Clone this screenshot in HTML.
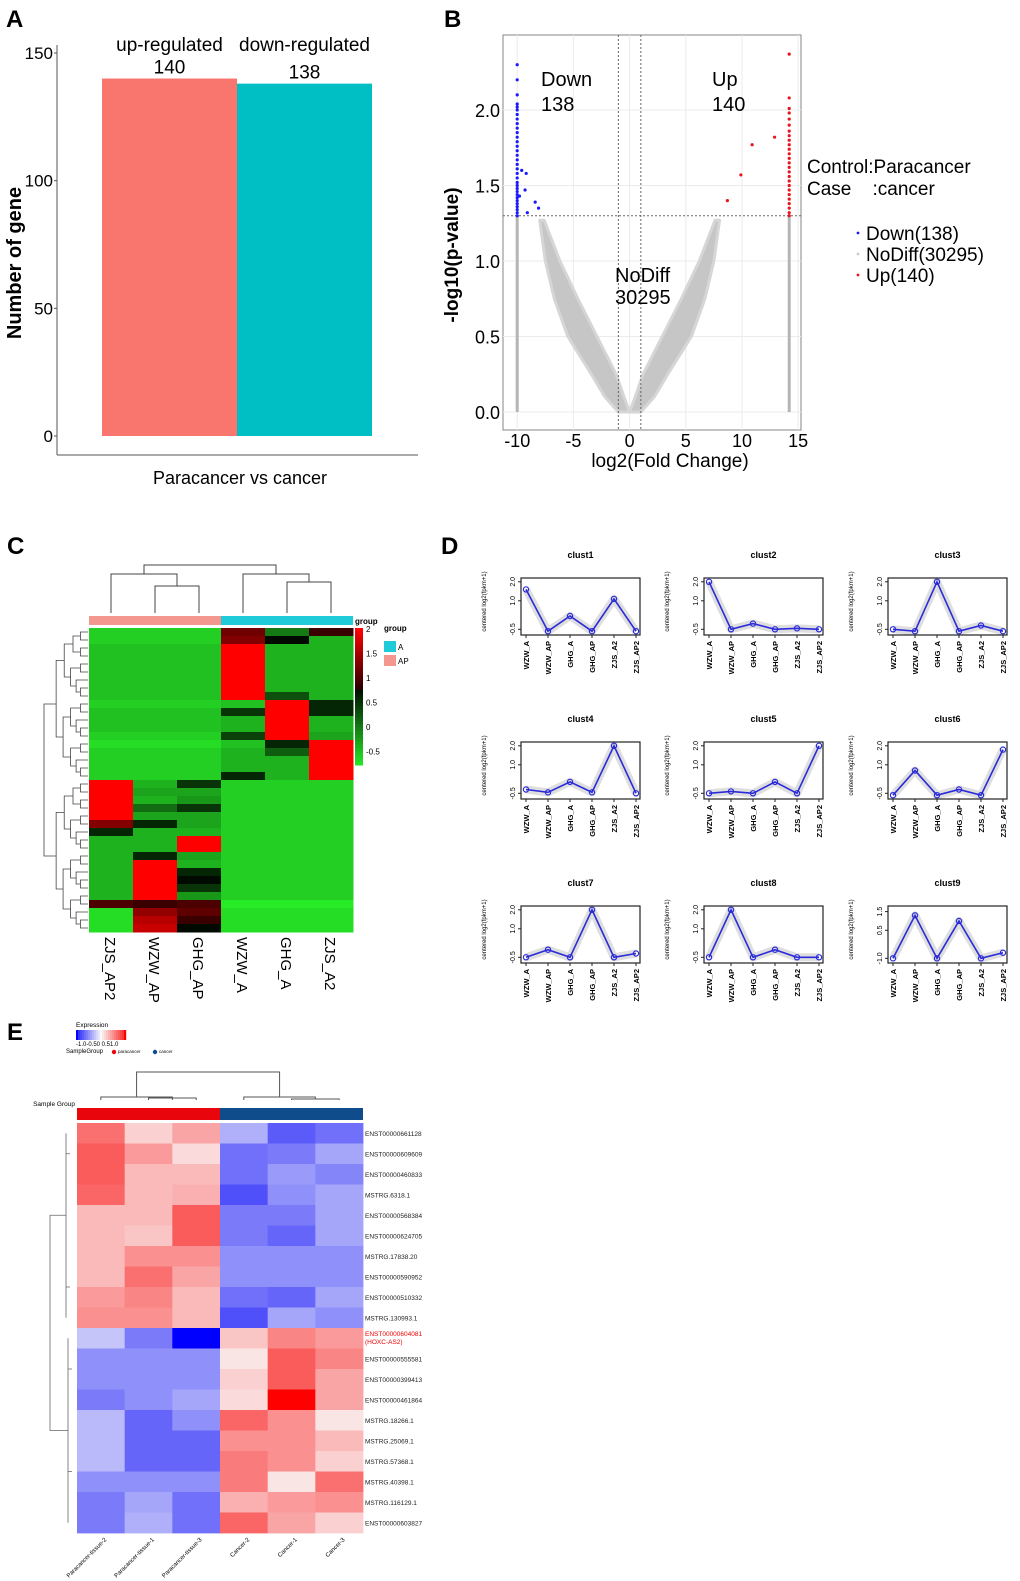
<!DOCTYPE html>
<html><head><meta charset="utf-8"><style>
html,body{margin:0;padding:0;background:#fff;}
svg{display:block;font-family:"Liberation Sans",sans-serif;}
.n{font-family:"Liberation Sans Narrow","Liberation Sans",sans-serif;}
</style></head><body>
<svg id="fig" width="1020" height="1581" viewBox="0 0 1020 1581" xmlns="http://www.w3.org/2000/svg">
<g id="pA"></g>
<g id="pB"></g>
<g id="pC"></g>
<g id="pD"></g>
<g id="pE"></g>
</svg>
<script>
// ---------- Panel A data ----------
const aCategories = ["up-regulated","down-regulated"];
const aValues = [140,138];
const aTicks = [0,50,100,150];
// ---------- Panel B data ----------
const bXTicks = [-10,-5,0,5,10,15];
const bYTicks = [0.0,0.5,1.0,1.5,2.0];
const bDownY = [2.3,2.2,2.1,2.04,2.02,2.0,1.97,1.94,1.91,1.88,1.85,1.82,1.79,1.76,1.73,1.7,1.67,1.64,1.61,1.58,1.55,1.52,1.5,1.48,1.46,1.44,1.42,1.4,1.38,1.36,1.34,1.32,1.3];
const bDownOffX = [-9.6,-9.2,-9.3,-9.8,-8.4,-8.1,-9.1];
const bDownOffY = [1.6,1.58,1.47,1.43,1.39,1.35,1.32];
const bUpY = [2.37,2.08,2.01,1.98,1.94,1.9,1.86,1.83,1.8,1.77,1.74,1.71,1.68,1.65,1.62,1.59,1.56,1.53,1.5,1.47,1.44,1.41,1.38,1.35,1.32,1.3];
const bUpOffX = [8.7,9.9,10.9,12.9];
const bUpOffY = [1.4,1.57,1.77,1.82];
const bBandY = [0,0.1,0.25,0.5,0.75,1.0,1.27];
const bLeftOuterX = [-1.0,-2.2,-3.4,-5.5,-6.7,-7.5,-8.0];
const bLeftInnerX = [0.0,-0.5,-1.2,-2.9,-4.6,-6.2,-7.6];
const bRightOuterX = [1.0,2.2,3.4,5.5,6.7,7.5,8.0];
const bRightInnerX = [0.0,0.5,1.2,2.9,4.6,6.2,7.6];
// ---------- Panel C data ----------
const cCols = ["ZJS_AP2","WZW_AP","GHG_AP","WZW_A","GHG_A","ZJS_A2"];
const cLegendTicks = [2,1.5,1,0.5,0,-0.5];
const cMatrix = [
[-0.6,-0.6,-0.6,1.2,0.0,0.9],
[-0.6,-0.6,-0.6,1.3,0.8,-0.4],
[-0.5,-0.5,-0.5,2,-0.4,-0.4],
[-0.5,-0.5,-0.5,2,-0.4,-0.4],
[-0.5,-0.5,-0.5,2,-0.4,-0.4],
[-0.5,-0.5,-0.5,2,-0.4,-0.4],
[-0.5,-0.5,-0.5,2,-0.4,-0.4],
[-0.5,-0.5,-0.5,2,-0.4,-0.4],
[-0.5,-0.5,-0.5,2,0.3,-0.4],
[-0.6,-0.6,-0.6,-0.5,2,0.6],
[-0.5,-0.5,-0.5,0.5,2,0.6],
[-0.5,-0.5,-0.5,-0.4,2,-0.4],
[-0.5,-0.5,-0.5,-0.4,2,-0.4],
[-0.6,-0.6,-0.6,0.4,2,-0.3],
[-0.7,-0.7,-0.7,-0.5,0.6,2],
[-0.6,-0.6,-0.6,-0.4,0.2,2],
[-0.6,-0.6,-0.6,-0.4,-0.4,2],
[-0.6,-0.6,-0.6,-0.4,-0.4,2],
[-0.6,-0.6,-0.6,0.6,-0.4,2],
[2,-0.4,0.5,-0.6,-0.6,-0.6],
[2,-0.3,-0.3,-0.6,-0.6,-0.6],
[2,-0.4,-0.2,-0.6,-0.6,-0.6],
[2,0.1,0.5,-0.6,-0.6,-0.6],
[2,-0.3,-0.3,-0.6,-0.6,-0.6],
[1.3,0.6,-0.3,-0.6,-0.6,-0.6],
[0.6,-0.4,-0.4,-0.6,-0.6,-0.6],
[-0.4,-0.4,2,-0.6,-0.6,-0.6],
[-0.4,-0.4,2,-0.6,-0.6,-0.6],
[-0.4,0.6,-0.3,-0.6,-0.6,-0.6],
[-0.4,2,-0.4,-0.6,-0.6,-0.6],
[-0.4,2,0.6,-0.6,-0.6,-0.6],
[-0.4,2,0.8,-0.6,-0.6,-0.6],
[-0.4,2,0.5,-0.6,-0.6,-0.6],
[-0.4,2,-0.2,-0.6,-0.6,-0.6],
[1.0,0.9,1.0,-0.8,-0.8,-0.8],
[-0.7,1.4,1.1,-0.7,-0.7,-0.7],
[-0.7,1.6,0.9,-0.7,-0.7,-0.7],
[-0.7,1.7,0.8,-0.7,-0.7,-0.7]];
// ---------- Panel D data ----------
const dSamples = ["WZW_A","WZW_AP","GHG_A","GHG_AP","ZJS_A2","ZJS_AP2"];
const dTitles = ["clust1","clust2","clust3","clust4","clust5","clust6","clust7","clust8","clust9"];
const dClust1 = [1.6,-0.6,0.2,-0.6,1.1,-0.6];
const dClust2 = [2.0,-0.5,-0.2,-0.5,-0.45,-0.5];
const dClust3 = [-0.5,-0.6,2.0,-0.6,-0.3,-0.6];
const dClust4 = [-0.3,-0.45,0.1,-0.45,2.0,-0.5];
const dClust5 = [-0.5,-0.4,-0.5,0.1,-0.5,2.0];
const dClust6 = [-0.6,0.7,-0.6,-0.3,-0.6,1.8];
const dClust7 = [-0.5,-0.1,-0.5,2.0,-0.5,-0.3];
const dClust8 = [-0.5,2.0,-0.5,-0.1,-0.5,-0.5];
const dClust9 = [-1.0,1.3,-1.0,1.0,-1.0,-0.7];
const dTickLabels = ["-0.5","1.0","2.0"];
const dTickLabels9 = ["-1.0","0.5","1.5"];
// ---------- Panel E data ----------
const eCols = ["Paracancer-tissue-2","Paracancer-tissue-1","Paracancer-tissue-3","Cancer-2","Cancer-1","Cancer-3"];
const eRows = ["ENST00000661128","ENST00000609609","ENST00000460833","MSTRG.6318.1","ENST00000568384","ENST00000624705","MSTRG.17838.20","ENST00000590952","ENST00000510332","MSTRG.130993.1","ENST00000604081","ENST00000555581","ENST00000399413","ENST00000461864","MSTRG.18266.1","MSTRG.25069.1","MSTRG.57368.1","MSTRG.40398.1","MSTRG.116129.1","ENST00000603827"];
const eMatrix = [
[0.65,0.2,0.4,-0.35,-0.75,-0.65],
[0.75,0.45,0.15,-0.65,-0.6,-0.4],
[0.75,0.3,0.3,-0.65,-0.45,-0.55],
[0.7,0.3,0.35,-0.8,-0.5,-0.4],
[0.3,0.3,0.75,-0.6,-0.6,-0.4],
[0.3,0.25,0.75,-0.6,-0.7,-0.4],
[0.3,0.5,0.5,-0.5,-0.5,-0.5],
[0.3,0.65,0.4,-0.5,-0.5,-0.5],
[0.45,0.55,0.3,-0.65,-0.7,-0.4],
[0.5,0.5,0.3,-0.8,-0.4,-0.5],
[-0.25,-0.6,-1.0,0.25,0.55,0.45],
[-0.5,-0.5,-0.5,0.1,0.75,0.55],
[-0.5,-0.5,-0.5,0.2,0.75,0.4],
[-0.6,-0.5,-0.4,0.15,1.0,0.4],
[-0.3,-0.7,-0.5,0.7,0.5,0.1],
[-0.3,-0.7,-0.7,0.5,0.5,0.3],
[-0.3,-0.7,-0.7,0.6,0.5,0.2],
[-0.5,-0.5,-0.5,0.6,0.1,0.65],
[-0.6,-0.4,-0.65,0.35,0.45,0.5],
[-0.6,-0.35,-0.65,0.7,0.4,0.2]];

const NS="http://www.w3.org/2000/svg";
function mk(parent,tag,attrs,text){const e=document.createElementNS(NS,tag);for(const k in attrs)e.setAttribute(k,attrs[k]);if(text!==undefined)e.textContent=text;parent.appendChild(e);return e;}
const svg=document.getElementById('fig');
function label(txt,x,y,name){const t=mk(svg,'text',{x:x,y:y,'font-size':24,'font-weight':'bold'},txt);}
label('A',6,27,'panel-label-a');label('B',444,27,'panel-label-b');label('C',7,554,'panel-label-c');label('D',441,554,'panel-label-d');label('E',7,1040,'panel-label-e');

// ===== Panel A =====
(function(){
const g=document.getElementById('pA');
const y0=436,ppu=(436-53)/150;
const ya=v=>y0-v*ppu;
const xs=[102,237],w=135;
const cols=['#f8766d','#00bfc4'];
const ax=mk(g,'line',{x1:57,y1:45,x2:57,y2:455,stroke:'#555','stroke-width':1});

const xl=mk(g,'line',{x1:57,y1:455,x2:418,y2:455,stroke:'#555','stroke-width':1});

aTicks.forEach(t=>{
 const tk=mk(g,'line',{x1:54,y1:ya(t),x2:57,y2:ya(t),stroke:'#555'});
 
 const tl=mk(g,'text',{x:53,y:ya(t)+6,'font-size':17,'text-anchor':'end',class:'n'},String(t));
 
});
aValues.forEach((v,i)=>{
 const r=mk(g,'rect',{x:xs[i],y:ya(v),width:w,height:y0-ya(v),fill:cols[i]});
 
 const c=xs[i]+w/2;
 const t1=mk(g,'text',{x:c,y:51,'font-size':19,'text-anchor':'middle',class:'n'},aCategories[i]);
 
 const t2=mk(g,'text',{x:c,y:ya(v)-5,'font-size':19,'text-anchor':'middle',class:'n'},String(v));
 
});
const xt=mk(g,'text',{x:240,y:484,'font-size':18,'text-anchor':'middle',class:'n'},'Paracancer vs cancer');

const yt=mk(g,'text',{x:0,y:0,'font-size':20,'text-anchor':'middle','font-weight':'bold',transform:'translate(21,263) rotate(-90)',class:'n'},'Number of gene');

})();

// ===== Panel B =====
(function(){
const g=document.getElementById('pB');
const x0=629.6,xp=(798-517)/25,y0=412,yp=(412-110)/2;
const xa=v=>x0+v*xp, ya=v=>y0-v*yp;
const L=503,R=801,T=35,B=430;
const fr=mk(g,'rect',{x:L,y:T,width:R-L,height:B-T,fill:'#fff',stroke:'#999','stroke-width':1.2});

bXTicks.forEach(t=>{
 const gl=mk(g,'line',{x1:xa(t),y1:T,x2:xa(t),y2:B,stroke:'#ebebeb'});
 
 const tl=mk(g,'text',{x:xa(t),y:447,'font-size':18,'text-anchor':'middle',class:'n'},String(t));
 
});
bYTicks.forEach(t=>{
 const gl=mk(g,'line',{x1:L,y1:ya(t),x2:R,y2:ya(t),stroke:'#ebebeb'});
 
 const tl=mk(g,'text',{x:500,y:ya(t)+7,'font-size':18,'text-anchor':'end',class:'n'},t.toFixed(1));
 
});
function band(outer,inner,name){
 let pts=[];outer.forEach((x,i)=>pts.push(xa(x)+','+ya(bBandY[i])));
 for(let i=inner.length-1;i>=0;i--)pts.push(xa(inner[i])+','+ya(bBandY[i]));
 const p=mk(g,'polygon',{points:pts.join(' '),fill:'#c6c6c6',stroke:'#d6d6d6','stroke-width':3,'stroke-linejoin':'round'});
 
}
band(bLeftOuterX,bLeftInnerX,'nodiff-cloud-left');band(bRightOuterX,bRightInnerX,'nodiff-cloud-right');
[-10,14.2].forEach(x=>{const l=mk(g,'line',{x1:xa(x),y1:ya(0),x2:xa(x),y2:ya(1.3),stroke:'#b5b5b5','stroke-width':3});
 });
[-1,1].forEach(x=>{const l=mk(g,'line',{x1:xa(x),y1:T,x2:xa(x),y2:B,stroke:'#666','stroke-dasharray':'2,2'});
 });
const th=mk(g,'line',{x1:L,y1:ya(1.3),x2:R,y2:ya(1.3),stroke:'#666','stroke-dasharray':'2,2'});

function dot(x,y,c,name){const d=mk(g,'circle',{cx:xa(x),cy:ya(y),r:1.6,fill:c});}
bDownY.forEach(y=>dot(-10,y,'#1a1aff','down-point'));
bDownOffX.forEach((x,i)=>dot(x,bDownOffY[i],'#1a1aff','down-point'));
bUpY.forEach(y=>dot(14.2,y,'#e8141e','up-point'));
bUpOffX.forEach((x,i)=>dot(x,bUpOffY[i],'#e8141e','up-point'));
const txt=[['Down',541,86],['138',541,111],['Up',712,86],['140',712,111],['NoDiff',615,282],['30295',615,304]];
txt.forEach(a=>{const t=mk(g,'text',{x:a[1],y:a[2],'font-size':20,class:'n'},a[0]);});
const c1=mk(g,'text',{x:807,y:173,'font-size':19,class:'n'},'Control:Paracancer');
const c2=mk(g,'text',{x:807,y:195,'font-size':19,class:'n',style:'white-space:pre'},'Case    :cancer');
[['Down(138)','#1a1aff',240],['NoDiff(30295)','#cccccc',261],['Up(140)','#e8141e',282]].forEach(a=>{
 const d=mk(g,'circle',{cx:858,cy:a[2]-7,r:1.4,fill:a[1]});
 const t=mk(g,'text',{x:866,y:a[2],'font-size':19,class:'n'},a[0]);
});
const xt=mk(g,'text',{x:670,y:467,'font-size':19,'text-anchor':'middle',class:'n'},'log2(Fold Change)');
const yt=mk(g,'text',{x:0,y:0,'font-size':19,'font-weight':'bold','text-anchor':'middle',transform:'translate(458,255) rotate(-90)',class:'n'},'-log10(p-value)');
})();

// ===== Panel C =====
function rg(v){v=Math.max(-0.8,Math.min(2,v));
 if(v<=0.8){const t=(v+0.8)/1.6;return 'rgb('+Math.round(40*(1-t))+','+Math.round(235*(1-t)+10*t)+','+Math.round(40*(1-t))+')';}
 const t=(v-0.8)/1.2;return 'rgb('+Math.round(40+215*t)+',0,0)';}
(function(){
const g=document.getElementById('pC');
const L=89,T=628,cw=44,rh=304/cMatrix.length;
cMatrix.forEach((row,i)=>row.forEach((v,j)=>{
 const r=mk(g,'rect',{x:L+j*cw,y:T+i*rh,width:cw+0.5,height:rh+0.5,fill:rg(v)});
 
}));
const cx=j=>L+j*cw+cw/2;
const b1=mk(g,'rect',{x:L,y:616,width:3*cw,height:9,fill:'#f4978e'});
const b2=mk(g,'rect',{x:L+3*cw,y:616,width:3*cw,height:9,fill:'#1fcbd8'});
const den=`M${cx(1)},613V586H${cx(2)}V613 M${cx(0)},613V574H${(cx(1)+cx(2))/2}V586 M${cx(4)},613V582H${cx(5)}V613 M${cx(3)},613V574H${(cx(4)+cx(5))/2}V582 M${(cx(0)+(cx(1)+cx(2))/2)/2},574V565H${(cx(3)+(cx(4)+cx(5))/2)/2}V574`;
const d=mk(g,'path',{d:den,fill:'none',stroke:'#444','stroke-width':1});
let p='';
function tree(a,b,depth){ if(b-a<=1){return {y:T+(a+0.5)*rh,x:88};}
 const m=Math.floor((a+b)/2);const l=tree(a,m,depth+1),r=tree(m,b,depth+1);
 const x=Math.max(44,88-(Math.log2(b-a))*7.5);
 p+=`M${l.x},${l.y}H${x}V${r.y}H${r.x}`;return {y:(l.y+r.y)/2,x:x};}
tree(0,19,0);tree(19,38,0);
p+=`M56,${T+9.5*rh}H44V${T+28.5*rh}H56`;
const rd=mk(g,'path',{d:p,fill:'none',stroke:'#444','stroke-width':0.8});
cCols.forEach((c,j)=>{const t=mk(g,'text',{x:0,y:0,'font-size':15,transform:`translate(${cx(j)-6},937) rotate(90)`},c);});
const n=40;for(let k=0;k<n;k++){const v=2-k*(2.8/n);const r=mk(g,'rect',{x:355,y:628+k*137/n,width:8,height:137/n+0.5,fill:rg(v)});}
cLegendTicks.forEach(v=>{const y=628+(2-v)/2.8*137;const t=mk(g,'text',{x:366,y:y+4,'font-size':8},String(v));});
const gl=mk(g,'text',{x:355,y:624,'font-size':8,'font-weight':'bold'},'group');
const gl2=mk(g,'text',{x:384,y:631,'font-size':8,'font-weight':'bold'},'group');
[['A','#1fcbd8',641],['AP','#f4978e',655]].forEach(a=>{const r=mk(g,'rect',{x:384,y:a[2],width:12,height:11,fill:a[1]});
 const t=mk(g,'text',{x:398,y:a[2]+9,'font-size':8},a[0]);});
})();

// ===== Panel D =====
(function(){
const g=document.getElementById('pD');
const data=[dClust1,dClust2,dClust3,dClust4,dClust5,dClust6,dClust7,dClust8,dClust9];
const lefts=[521,704,888],tops=[578,742,906],W=119,H=57;
data.forEach((vals,k)=>{
 const L=lefts[k%3],T=tops[Math.floor(k/3)];
 const is9=k===8;const lo=is9?-1.25:-0.8,hi=is9?1.8:2.2;
 const ya=v=>T+H-(v-lo)/(hi-lo)*H;
 const xa=i=>L+5+i*22;
 const sub=mk(g,'g',{});
 const tt=mk(sub,'text',{x:L+W/2,y:T-20,'font-size':9,'font-weight':'bold','text-anchor':'middle'},dTitles[k]);
 const pts=vals.map((v,i)=>xa(i)+','+ya(v)).join(' ');
 const bg=mk(sub,'polyline',{points:pts,fill:'none',stroke:'#dedede','stroke-width':8,'stroke-linejoin':'round'});
 const ln=mk(sub,'polyline',{points:pts,fill:'none',stroke:'#2b2bd9','stroke-width':1.6});
 vals.forEach((v,i)=>{const c=mk(sub,'circle',{cx:xa(i),cy:ya(v),r:2.6,fill:'none',stroke:'#2b2bd9','stroke-width':1.2});});
 const fr=mk(sub,'rect',{x:L,y:T,width:W,height:H,fill:'none',stroke:'#222','stroke-width':1.2});
 const tv=is9?[-1.0,0.5,1.5]:[-0.5,1.0,2.0];const tl=is9?dTickLabels9:dTickLabels;
 tv.forEach((v,i)=>{const tk=mk(sub,'line',{x1:L-3,y1:ya(v),x2:L,y2:ya(v),stroke:'#222'});
  const t=mk(sub,'text',{x:0,y:0,'font-size':7,'text-anchor':'middle',transform:`translate(${L-6},${ya(v)}) rotate(-90)`},tl[i]);});
 const yl=mk(sub,'text',{x:0,y:0,'font-size':6,'text-anchor':'middle',transform:`translate(${L-35},${T+H/2-5}) rotate(-90)`},'centered log2(fpkm+1)');
 dSamples.forEach((s,i)=>{const tk=mk(sub,'line',{x1:xa(i),y1:T+H,x2:xa(i),y2:T+H+3,stroke:'#222'});
  const t=mk(sub,'text',{x:0,y:0,'font-size':7.5,'font-weight':'bold','text-anchor':'end',transform:`translate(${xa(i)+3},${T+H+6}) rotate(-90)`},s);});
});
})();

// ===== Panel E =====
function bwr(v){v=Math.max(-1,Math.min(1,v));const t=Math.abs(v);
 const c=Math.round(250*(1-0.85*t));
 if(v>=0)return 'rgb('+(t>0.95?255:250)+','+(t>0.95?0:c)+','+(t>0.95?0:c)+')';
 return 'rgb('+(t>0.95?0:c)+','+(t>0.95?0:c)+','+(t>0.95?255:250)+')';}
(function(){
const g=document.getElementById('pE');
const L=77,T=1123,cw=(363-77)/6,rh=(1533-1123)/20;
eMatrix.forEach((row,i)=>row.forEach((v,j)=>{const r=mk(g,'rect',{x:L+j*cw,y:T+i*rh,width:cw+0.4,height:rh+0.4,fill:bwr(v)});}));
eRows.forEach((n,i)=>{const red=i===10;
 const t=mk(g,'text',{x:365,y:T+i*rh+(red?8:13),'font-size':6.5,fill:red?'#e00':'#222',class:'n'},n);
 if(red){const t2=mk(g,'text',{x:365,y:T+i*rh+16,'font-size':6.5,fill:'#e00',class:'n'},'(HOXC-AS2)');}
});
const b1=mk(g,'rect',{x:L,y:1108,width:3*cw,height:12,fill:'#e8050c'});
const b2=mk(g,'rect',{x:L+3*cw,y:1108,width:3*cw,height:12,fill:'#0f4c8c'});
const sg=mk(g,'text',{x:75,y:1106,'font-size':6.5,'text-anchor':'end',class:'n'},'Sample Group');
const cx=j=>L+j*cw+cw/2;
const den=`M${cx(0)},1100V1097H${(cx(1)+cx(2))/2}V1100 M${cx(1)},1100V1098H${cx(2)}V1100 M${cx(3)},1100V1097H${(cx(4)+cx(5))/2}V1099 M${cx(4)},1100V1099H${cx(5)}V1100 M${(cx(0)+(cx(1)+cx(2))/2)/2},1097V1072H${(cx(3)+(cx(4)+cx(5))/2)/2}V1097`;
const d=mk(g,'path',{d:den,fill:'none',stroke:'#555','stroke-width':1});
const rd=mk(g,'path',{d:`M66,${T+4.5*rh}H50V${T+15*rh}H68 M66,${T+0.5*rh}V${T+9.5*rh} M66,${T+1.5*rh}H70 M66,${T+8*rh}H70 M68,${T+10.5*rh}V${T+19.5*rh} M68,${T+12*rh}H72 M68,${T+17*rh}H72`,fill:'none',stroke:'#666','stroke-width':0.8});

eCols.forEach((c,j)=>{const t=mk(g,'text',{x:0,y:0,'font-size':6,'text-anchor':'end',transform:`translate(${cx(j)+6},1540) rotate(-45)`,class:'n'},c);});
const ex=mk(g,'text',{x:76,y:1027,'font-size':6.5,class:'n'},'Expression');
for(let k=0;k<25;k++){const v=-1+k*2/24;const r=mk(g,'rect',{x:76+k*2,y:1030,width:2.2,height:10,fill:bwr(v)});}
const ct=mk(g,'text',{x:76,y:1046,'font-size':6,class:'n'},'-1.0-0.50 0.51.0');
const sl=mk(g,'text',{x:66,y:1053,'font-size':6,class:'n'},'SampleGroup');
[['paracancer','#e8050c',114],['cancer','#0f4c8c',155]].forEach(a=>{const c=mk(g,'circle',{cx:a[2],cy:1052,r:2.2,fill:a[1]});
 const t=mk(g,'text',{x:a[2]+4,y:1053,'font-size':4.5,class:'n'},a[0]);});
})();
</script>
</body></html>
